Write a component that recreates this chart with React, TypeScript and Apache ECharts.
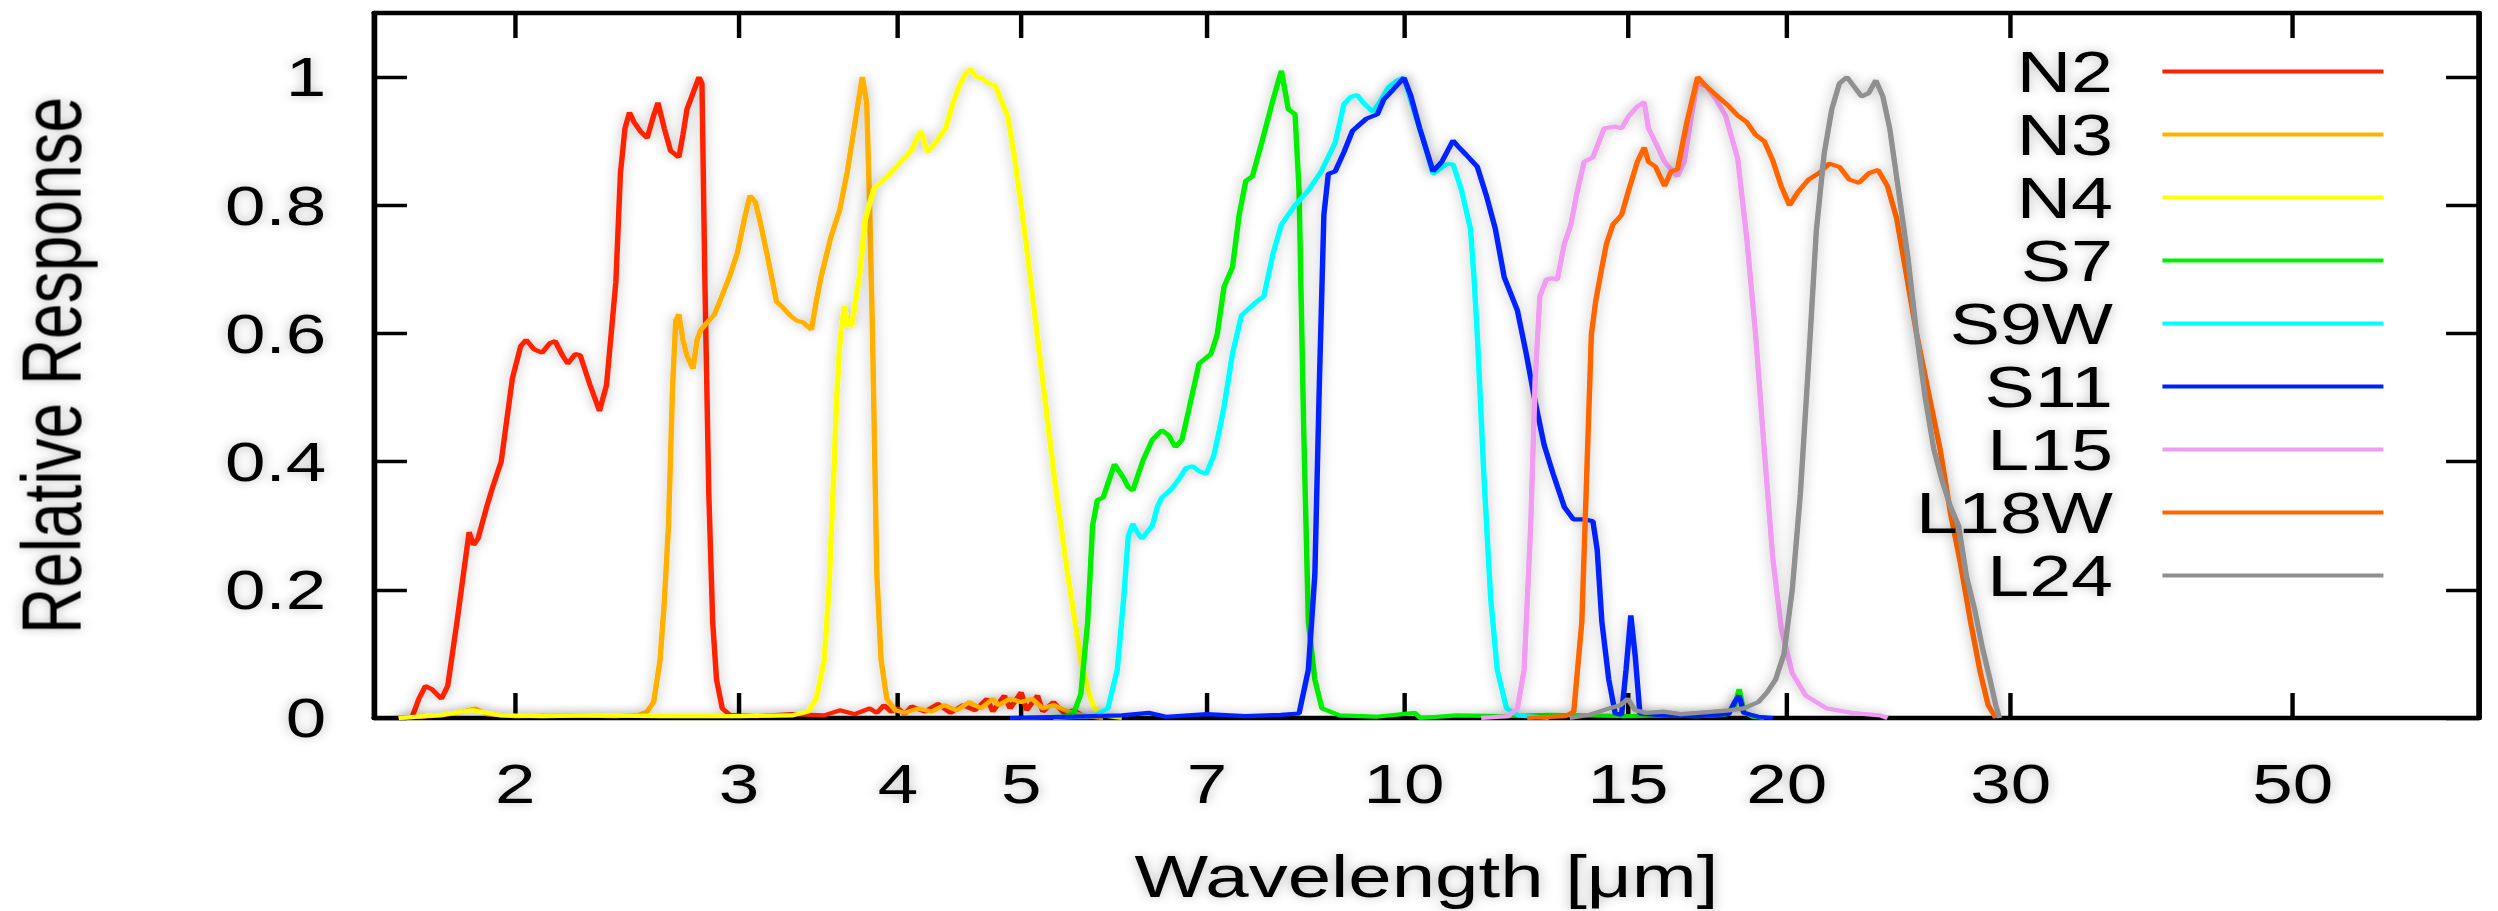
import React, { useEffect, useRef } from "react";
import * as echarts from "echarts";

// ---------- layout constants ----------
const STRETCH = 1.3; // horizontal stretch of the reference figure
const PAGE_W = 2498;
const PAGE_H = 911;
const INNER_W = PAGE_W / STRETCH;

// ---------- data ----------
const xTickValues = [2, 3, 4, 5, 7, 10, 15, 20, 30, 50];
const yTickValues = [0, 0.2, 0.4, 0.6, 0.8, 1];
const xMin = 1.55;
const xMax = 70;
const yMin = 0;
const yMax = 1.1;

const filterNames = ["N2", "N3", "N4", "S7", "S9W", "S11", "L15", "L18W", "L24"];
const filterColors = ["#ff2200", "#ffb000", "#ffff00", "#00f000", "#00ffff", "#0022ff", "#f09cf0", "#ff6600", "#909090"];

const N2: [number, number][] = [
  [1.62, 0], [1.66, 0.002], [1.68, 0.03], [1.7, 0.05], [1.72, 0.045], [1.75, 0.03], [1.77, 0.05], [1.8, 0.15],
  [1.84, 0.29], [1.855, 0.27], [1.87, 0.28], [1.9, 0.33], [1.92, 0.36], [1.95, 0.4], [1.99, 0.53], [2.02, 0.58],
  [2.04, 0.59], [2.07, 0.575], [2.1, 0.57], [2.13, 0.585], [2.15, 0.588], [2.18, 0.565], [2.2, 0.553], [2.23, 0.568],
  [2.25, 0.566], [2.29, 0.52], [2.33, 0.479], [2.36, 0.52], [2.38, 0.6], [2.4, 0.68], [2.42, 0.85], [2.44, 0.92],
  [2.46, 0.945], [2.48, 0.93], [2.51, 0.915], [2.54, 0.905], [2.57, 0.94], [2.59, 0.96], [2.62, 0.92], [2.65, 0.885],
  [2.69, 0.875], [2.71, 0.91], [2.73, 0.95], [2.76, 0.975], [2.79, 1.0], [2.805, 0.99], [2.82, 0.68], [2.84, 0.35],
  [2.86, 0.15], [2.88, 0.06], [2.91, 0.015], [2.95, 0.005], [3.0, 0.004], [3.1, 0.003], [3.3, 0.006], [3.5, 0.004],
  [3.6, 0.012], [3.7, 0.006], [3.8, 0.015], [3.85, 0.008], [3.9, 0.02], [3.95, 0.01], [4.0, 0.015], [4.05, 0.006],
  [4.1, 0.018], [4.2, 0.01], [4.3, 0.022], [4.4, 0.008], [4.5, 0.02], [4.6, 0.012], [4.7, 0.03], [4.75, 0.01],
  [4.85, 0.035], [4.9, 0.015], [5.0, 0.04], [5.05, 0.012], [5.15, 0.035], [5.2, 0.01], [5.3, 0.025], [5.4, 0.008],
  [5.5, 0.012], [5.6, 0.003], [5.8, 0],
];

const N3: [number, number][] = [
  [1.62, 0], [1.75, 0.004], [1.82, 0.01], [1.86, 0.015], [1.9, 0.006], [2.0, 0.003], [2.2, 0.004], [2.4, 0.003],
  [2.5, 0.005], [2.54, 0.01], [2.57, 0.025], [2.6, 0.09], [2.62, 0.18], [2.64, 0.3], [2.66, 0.52], [2.675, 0.62],
  [2.69, 0.63], [2.71, 0.59], [2.73, 0.565], [2.76, 0.545], [2.78, 0.59], [2.8, 0.606], [2.84, 0.62], [2.87, 0.63],
  [2.91, 0.66], [2.95, 0.69], [2.99, 0.725], [3.03, 0.78], [3.06, 0.815], [3.09, 0.805], [3.12, 0.77], [3.16, 0.718],
  [3.21, 0.65], [3.25, 0.64], [3.29, 0.628], [3.33, 0.62], [3.37, 0.617], [3.42, 0.606], [3.45, 0.65], [3.48, 0.688],
  [3.54, 0.748], [3.6, 0.793], [3.65, 0.853], [3.71, 0.942], [3.75, 1.0], [3.78, 0.96], [3.8, 0.8], [3.82, 0.6],
  [3.85, 0.224], [3.88, 0.09], [3.92, 0.03], [3.98, 0.012], [4.05, 0.008], [4.15, 0.015], [4.25, 0.01], [4.35, 0.02],
  [4.45, 0.012], [4.55, 0.025], [4.65, 0.015], [4.75, 0.03], [4.8, 0.02], [4.9, 0.03], [5.0, 0.025], [5.1, 0.03],
  [5.2, 0.015], [5.3, 0.02], [5.45, 0.01], [5.6, 0.004], [5.8, 0],
];

const N4: [number, number][] = [
  [1.62, 0], [1.75, 0.005], [1.85, 0.012], [1.95, 0.004], [2.1, 0.003], [2.3, 0.004], [2.6, 0.003], [3.0, 0.003],
  [3.3, 0.004], [3.4, 0.01], [3.45, 0.03], [3.5, 0.09], [3.53, 0.2], [3.56, 0.374], [3.58, 0.5], [3.6, 0.583],
  [3.63, 0.643], [3.65, 0.613], [3.68, 0.613], [3.71, 0.66], [3.73, 0.688], [3.77, 0.778], [3.83, 0.826], [3.9, 0.84],
  [3.96, 0.853], [4.03, 0.87], [4.09, 0.883], [4.17, 0.916], [4.22, 0.883], [4.29, 0.9], [4.36, 0.92], [4.42, 0.96],
  [4.47, 0.987], [4.52, 1.005], [4.56, 1.013], [4.61, 1.0], [4.65, 0.999], [4.71, 0.99], [4.77, 0.987], [4.83, 0.96],
  [4.88, 0.939], [4.94, 0.875], [5.0, 0.8], [5.06, 0.72], [5.19, 0.539], [5.31, 0.374], [5.44, 0.224], [5.57, 0.09],
  [5.65, 0.04], [5.71, 0.015], [5.8, 0.004], [6.0, 0],
];

const S7: [number, number][] = [
  [5.0, 0], [5.4, 0.002], [5.5, 0.008], [5.57, 0.037], [5.64, 0.15], [5.69, 0.3], [5.74, 0.34], [5.8, 0.344],
  [5.86, 0.37], [5.92, 0.396], [5.97, 0.385], [6.02, 0.374], [6.07, 0.36], [6.12, 0.355], [6.18, 0.38], [6.24, 0.404],
  [6.34, 0.434], [6.45, 0.449], [6.53, 0.441], [6.61, 0.423], [6.69, 0.434], [6.77, 0.479], [6.9, 0.553], [7.05, 0.568],
  [7.13, 0.598], [7.22, 0.673], [7.33, 0.703], [7.42, 0.785], [7.51, 0.838], [7.6, 0.845], [7.73, 0.898], [7.89, 0.965],
  [8.01, 1.01], [8.11, 0.95], [8.21, 0.942], [8.27, 0.823], [8.34, 0.449], [8.41, 0.15], [8.51, 0.06], [8.62, 0.015],
  [8.9, 0.004], [9.5, 0.002], [10.2, 0.008], [10.3, 0], [11, 0.004], [12, 0.003], [13, 0.005], [14, 0.004],
  [15, 0.003], [16, 0.004], [17, 0.003], [17.9, 0.005], [18.2, 0.02], [18.35, 0.045], [18.5, 0.01], [18.8, 0.002],
  [19.2, 0],
];

const S9W: [number, number][] = [
  [5.3, 0], [5.7, 0.003], [5.85, 0.015], [5.95, 0.075], [6.02, 0.187], [6.07, 0.284], [6.12, 0.303], [6.17, 0.29],
  [6.22, 0.28], [6.28, 0.29], [6.34, 0.3], [6.4, 0.33], [6.45, 0.344], [6.52, 0.352], [6.58, 0.36], [6.66, 0.374],
  [6.74, 0.39], [6.82, 0.393], [6.9, 0.385], [6.99, 0.381], [7.09, 0.411], [7.16, 0.45], [7.22, 0.486], [7.33, 0.568],
  [7.45, 0.628], [7.63, 0.647], [7.76, 0.658], [7.89, 0.725], [8.01, 0.77], [8.21, 0.8], [8.41, 0.823], [8.61, 0.853],
  [8.83, 0.898], [8.97, 0.958], [9.08, 0.969], [9.19, 0.972], [9.28, 0.961], [9.45, 0.946], [9.57, 0.961], [9.72, 0.984],
  [9.88, 0.995], [10.0, 0.999], [10.12, 0.965], [10.37, 0.898], [10.54, 0.849], [10.66, 0.856], [10.8, 0.864], [10.93, 0.864],
  [11.1, 0.823], [11.28, 0.763], [11.35, 0.69], [11.42, 0.598], [11.56, 0.374], [11.7, 0.187], [11.84, 0.075], [12.04, 0.015],
  [12.3, 0.004], [13, 0],
];

const S11: [number, number][] = [
  [4.9, 0], [5.5, 0.002], [6.0, 0.004], [6.3, 0.008], [6.5, 0.002], [7.0, 0.006], [7.5, 0.003], [8.0, 0.005],
  [8.27, 0.007], [8.41, 0.075], [8.51, 0.224], [8.58, 0.524], [8.65, 0.785], [8.72, 0.849], [8.83, 0.853], [8.97, 0.883],
  [9.11, 0.916], [9.34, 0.935], [9.53, 0.942], [9.64, 0.965], [9.8, 0.98], [10.0, 0.999], [10.12, 0.972], [10.29, 0.92],
  [10.54, 0.853], [10.71, 0.868], [10.93, 0.901], [11.05, 0.89], [11.19, 0.879], [11.42, 0.86], [11.61, 0.815], [11.8, 0.763],
  [11.99, 0.688], [12.28, 0.636], [12.48, 0.568], [12.68, 0.494], [12.89, 0.426], [13.1, 0.381], [13.37, 0.329], [13.59, 0.31],
  [13.86, 0.31], [14.08, 0.307], [14.19, 0.262], [14.31, 0.15], [14.49, 0.06], [14.66, 0.007], [14.83, 0.005], [14.95, 0.075],
  [15.08, 0.16], [15.2, 0.097], [15.33, 0.007], [16, 0.004], [17, 0.003], [18.0, 0.006], [18.2, 0.025], [18.35, 0.035],
  [18.5, 0.008], [19, 0.002], [19.5, 0],
];

const L15: [number, number][] = [
  [11.5, 0], [12.08, 0.003], [12.28, 0.015], [12.43, 0.075], [12.58, 0.3], [12.68, 0.524], [12.79, 0.658], [12.94, 0.684],
  [13.07, 0.686], [13.2, 0.684], [13.37, 0.74], [13.53, 0.77], [13.69, 0.823], [13.86, 0.868], [14.08, 0.875], [14.37, 0.92],
  [14.66, 0.923], [14.83, 0.92], [15.02, 0.939], [15.26, 0.954], [15.45, 0.961], [15.57, 0.92], [15.77, 0.898], [16.03, 0.868],
  [16.22, 0.856], [16.41, 0.845], [16.61, 0.868], [16.8, 0.93], [17.0, 0.99], [17.3, 0.985], [17.6, 0.965], [17.9, 0.94],
  [18.3, 0.873], [18.6, 0.75], [18.9, 0.6], [19.2, 0.42], [19.5, 0.25], [19.8, 0.14], [20.2, 0.07], [20.7, 0.035],
  [21.5, 0.015], [22.5, 0.008], [23.7, 0.004], [24.0, 0],
];

const L18W: [number, number][] = [
  [12.5, 0], [13.4, 0.003], [13.6, 0.01], [13.8, 0.15], [13.92, 0.374], [14.04, 0.598], [14.15, 0.65], [14.31, 0.703],
  [14.43, 0.74], [14.6, 0.77], [14.83, 0.785], [15.02, 0.823], [15.26, 0.868], [15.45, 0.89], [15.57, 0.868], [15.77, 0.86],
  [16.03, 0.83], [16.22, 0.853], [16.41, 0.856], [16.68, 0.927], [17.02, 1.0], [17.3, 0.985], [17.6, 0.972], [18.0, 0.955],
  [18.3, 0.94], [18.6, 0.93], [18.9, 0.91], [19.2, 0.9], [19.5, 0.87], [19.8, 0.83], [20.1, 0.8], [20.4, 0.82],
  [20.8, 0.84], [21.2, 0.85], [21.6, 0.865], [22.0, 0.86], [22.4, 0.84], [22.8, 0.835], [23.2, 0.85], [23.6, 0.855],
  [24.0, 0.83], [24.4, 0.78], [24.8, 0.7], [25.3, 0.6], [25.9, 0.5], [26.4, 0.42], [26.9, 0.32], [27.4, 0.24],
  [27.9, 0.15], [28.4, 0.07], [28.8, 0.02], [29.2, 0],
];

const L24: [number, number][] = [
  [13.5, 0], [14, 0.005], [14.5, 0.015], [14.8, 0.02], [15.0, 0.03], [15.2, 0.012], [15.5, 0.008], [16, 0.01],
  [16.5, 0.006], [17, 0.008], [17.5, 0.01], [18, 0.012], [18.5, 0.015], [19.0, 0.025], [19.3, 0.04], [19.6, 0.06],
  [19.9, 0.1], [20.2, 0.2], [20.5, 0.35], [20.8, 0.55], [21.1, 0.76], [21.4, 0.88], [21.7, 0.95], [22.0, 0.99],
  [22.3, 1.0], [22.6, 0.985], [22.9, 0.97], [23.2, 0.975], [23.5, 0.995], [23.8, 0.97], [24.1, 0.92], [24.5, 0.82],
  [24.9, 0.72], [25.3, 0.6], [25.7, 0.5], [26.1, 0.42], [26.5, 0.37], [26.9, 0.33], [27.3, 0.3], [27.7, 0.22],
  [28.1, 0.17], [28.5, 0.11], [28.9, 0.06], [29.2, 0.02], [29.4, 0],
];

const filterData = [N2, N3, N4, S7, S9W, S11, L15, L18W, L24];

// ---------- styles ----------
const FONT = "Liberation Sans, Arial, Helvetica, sans-serif";
const GLOW = "rgba(0,0,0,0.28)";
const LINE_W = 4.2;

function buildOption(): echarts.EChartsOption {
  const lg = Math.log10;
  const xTicks = xTickValues.map((v) => lg(v));
  const axisLineStyle = { color: "#000", width: 4.4 };
  const tickLineStyle = { color: "#000", width: 3.4 };
  const labelBase = {
    color: "#000",
    fontFamily: FONT,
    fontSize: 56,
    textShadowColor: GLOW,
    textShadowBlur: 10,
  };
  return {
    animation: false,
    backgroundColor: "#fff",
    grid: { left: 281.5, right: 15.4, top: 13, bottom: 192, containLabel: false },
    legend: {
      data: filterNames,
      orient: "vertical",
      align: "right",
      right: 86.5,
      top: 40,
      padding: 0,
      itemWidth: 170,
      itemHeight: 2,
      itemGap: 0,
      selectedMode: false,
      itemStyle: { opacity: 0 },
      lineStyle: { width: LINE_W },
      textStyle: {
        ...labelBase,
        fontSize: 58,
        lineHeight: 63,
        padding: [0, 33, 0, 0],
      },
    },
    xAxis: [
      {
        type: "value",
        position: "bottom",
        min: lg(xMin),
        max: lg(xMax),
        name: "Wavelength [μm]",
        nameLocation: "middle",
        nameGap: 128,
        nameTextStyle: { ...labelBase, fontSize: 60 },
        axisLine: { show: true, onZero: false, lineStyle: axisLineStyle },
        axisTick: { show: true, inside: true, length: 25, customValues: xTicks, lineStyle: tickLineStyle },
        axisLabel: {
          ...labelBase,
          margin: 38,
          customValues: xTicks,
          formatter: (v: number) => String(Math.round(Math.pow(10, v))),
        },
        splitLine: { show: false },
      },
      {
        type: "value",
        position: "top",
        min: lg(xMin),
        max: lg(xMax),
        axisLine: { show: true, onZero: false, lineStyle: axisLineStyle },
        axisTick: { show: true, inside: true, length: 25, customValues: xTicks, lineStyle: tickLineStyle },
        axisLabel: { show: false },
        splitLine: { show: false },
      },
    ],
    yAxis: [
      {
        type: "value",
        position: "left",
        min: yMin,
        max: yMax,
        name: "Relative Response",
        nameLocation: "middle",
        nameGap: 216,
        nameTextStyle: { ...labelBase, fontSize: 64 },
        axisLine: { show: true, onZero: false, lineStyle: axisLineStyle },
        axisTick: { show: true, inside: true, length: 25, customValues: yTickValues, lineStyle: tickLineStyle },
        axisLabel: { ...labelBase, margin: 37, customValues: yTickValues },
        splitLine: { show: false },
      },
      {
        type: "value",
        position: "right",
        min: yMin,
        max: yMax,
        axisLine: { show: true, onZero: false, lineStyle: axisLineStyle },
        axisTick: { show: true, inside: true, length: 25, customValues: yTickValues, lineStyle: tickLineStyle },
        axisLabel: { show: false },
        splitLine: { show: false },
      },
    ],
    series: filterNames.map((name, i) => ({
      name,
      type: "line",
      xAxisIndex: 0,
      yAxisIndex: 0,
      data: filterData[i].map(([w, r]) => [lg(w), r]),
      symbol: "none",
      showSymbol: false,
      color: filterColors[i],
      lineStyle: { color: filterColors[i], width: LINE_W, shadowColor: GLOW, shadowBlur: 10 },
      emphasis: { disabled: true },
      z: 2 + i * 0.01,
    })),
  } as echarts.EChartsOption;
}

export default function App() {
  const ref = useRef<HTMLDivElement>(null);
  useEffect(() => {
    if (!ref.current) return;
    const chart = echarts.init(ref.current, null, { renderer: "svg" });
    chart.setOption(buildOption());
    return () => chart.dispose();
  }, []);
  return (
    <div
      style={{
        position: "absolute",
        left: 0,
        top: 0,
        width: PAGE_W,
        height: PAGE_H,
        overflow: "hidden",
        background: "#fff",
      }}
    >
      <div
        ref={ref}
        style={{
          width: INNER_W,
          height: PAGE_H,
          transform: `scaleX(${STRETCH})`,
          transformOrigin: "0 0",
        }}
      />
    </div>
  );
}
